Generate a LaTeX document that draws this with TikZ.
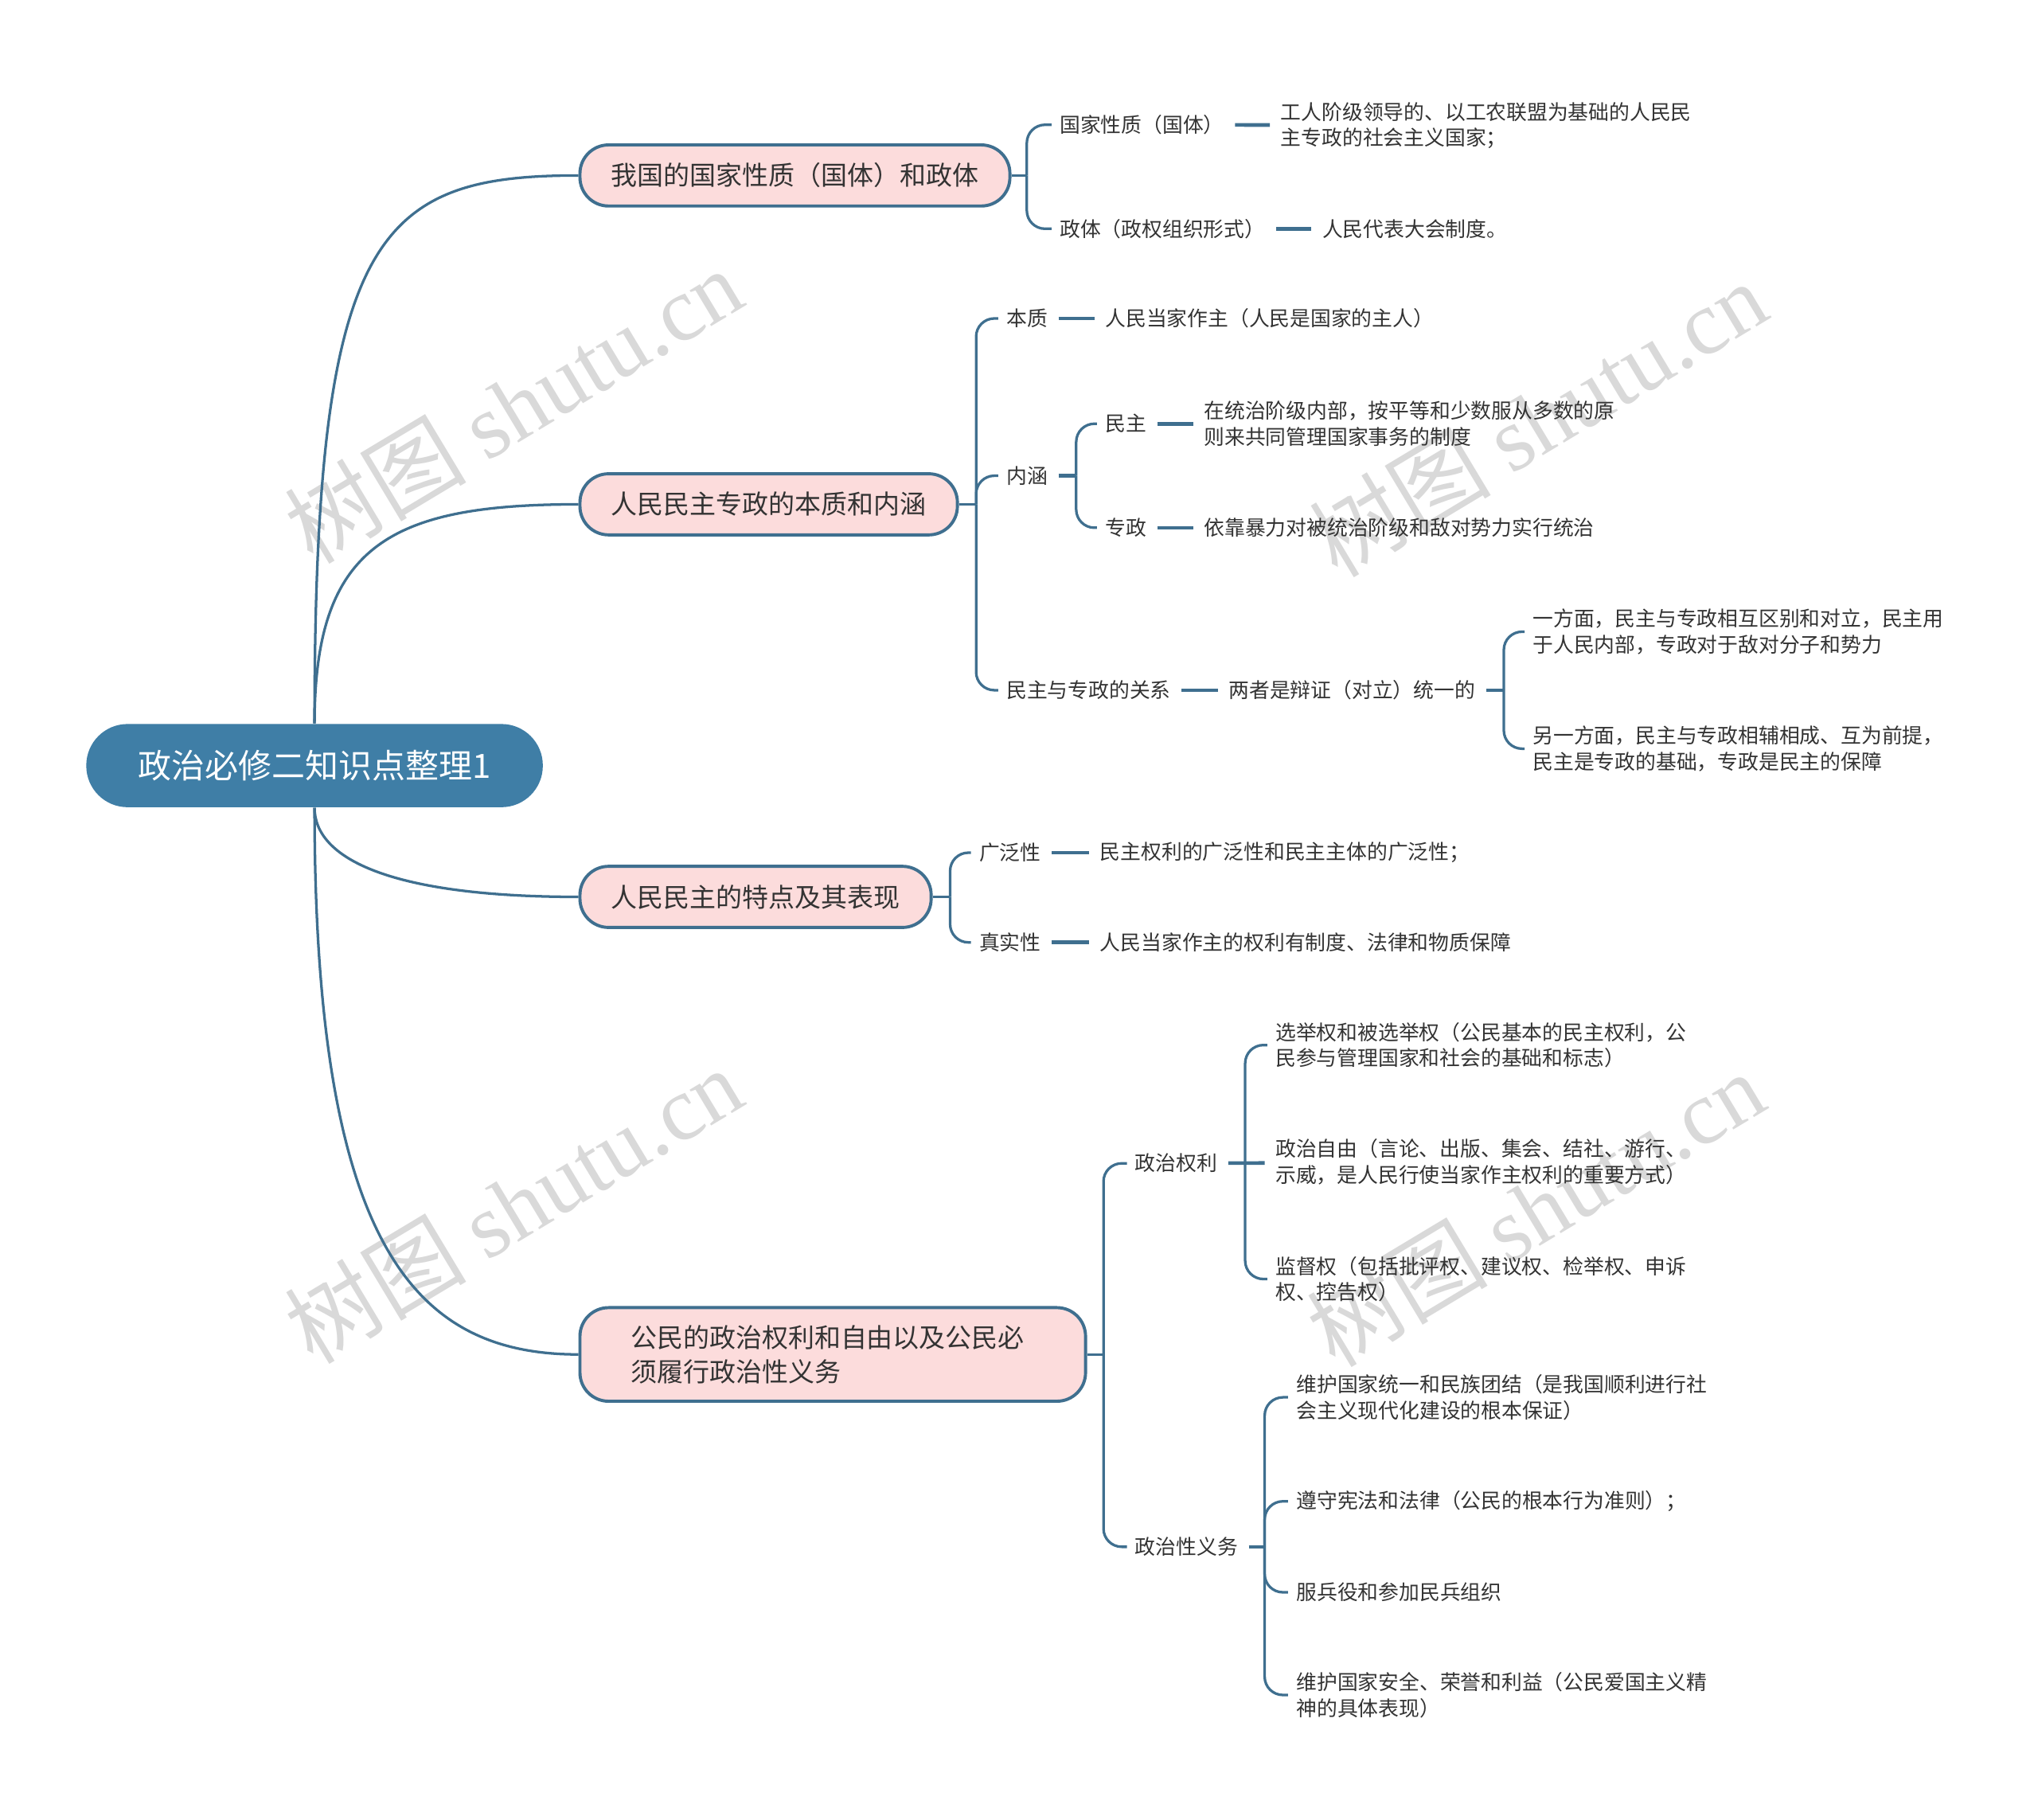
\documentclass[tikz,border=0pt]{standalone}
\usepackage{fontspec}
\setmainfont{Noto Sans CJK SC}
\newfontfamily\latinserif{Liberation Serif}
\usetikzlibrary{positioning,calc}
\definecolor{rootblue}{HTML}{3F7EA6}
\definecolor{linkblue}{HTML}{3F6F8F}
\definecolor{topicpink}{HTML}{FCDCDC}
\definecolor{inkgray}{HTML}{333333}

\begin{document}
\begin{tikzpicture}[x=0.5pt, y=-0.5pt,
  root/.style={fill=rootblue, text=white, rounded corners=15.9pt, minimum height=32pt, inner xsep=20pt, font=\fontsize{12.85}{15}\selectfont},
  topic/.style={draw=linkblue, line width=1.2pt, fill=topicpink, rounded corners=11pt, minimum height=23.5pt, inner xsep=12pt, anchor=west, text=inkgray, font=\fontsize{10.1}{13}\selectfont},
  item/.style={anchor=west, inner sep=0pt, align=left, text=inkgray, font=\fontsize{7.9}{10}\selectfont},
  link/.style={draw=linkblue, line width=1pt},
  brace/.style={link, rounded corners=7pt, shorten >=3pt},
  tie/.style={draw=linkblue, line width=1.4pt, shorten <=4pt, shorten >=4pt},
  wmark/.style={text=black!15, rotate=31, font=\fontsize{35}{35}\selectfont},
]
  \useasboundingbox (0,0) rectangle (1568,1400);

  % watermarks
  \node[wmark] (wm1) at (395,312) {树图 {\latinserif shutu.cn}};
  \node[wmark] (wm2) at (1183,322) {树图 {\latinserif shutu.cn}};
  \node[wmark] (wm3) at (395,927) {树图 {\latinserif shutu.cn}};
  \node[wmark] (wm4) at (1181,930) {树图 {\latinserif shutu.cn}};

  % root and main topics
  \node[root] (root) at (242,589) {政治必修二知识点整理1};
  \node[topic] (t1) at (445,135) {我国的国家性质（国体）和政体};
  \node[topic] (t2) at (445,388) {人民民主专政的本质和内涵};
  \node[topic] (t3) at (445,690) {人民民主的特点及其表现};
  \node[topic, align=left, text width=155.5pt, inner xsep=19.5pt, minimum height=36pt] (t4) at (445,1042)
    {公民的政治权利和自由以及公民必\\须履行政治性义务};

  \draw[link] (root.north) .. controls +(0,-377) and +(-155,0) .. (t1.west);
  \draw[link] (root.north) .. controls +(0,-137) and +(-145,0) .. (t2.west);
  \draw[link] (root.south) .. controls +(0,39) and +(-145,0) .. (t3.west);
  \draw[link] (root.south) .. controls +(0,339) and +(-125,0) .. (t4.west);

  % topic 1
  \node[item] (k11) at (815,96) {国家性质（国体）};
  \node[item] (v11) at (985,96.5) {工人阶级领导的、以工农联盟为基础的人民民\\主专政的社会主义国家；};
  \node[item] (k12) at (815,176) {政体（政权组织形式）};
  \node[item] (v12) at (1017,176) {人民代表大会制度。};
  \coordinate (b1) at (790,135);
  \draw[link] (t1.east) -- (b1);
  \draw[brace] (b1) |- (k11.west);
  \draw[brace] (b1) |- (k12.west);
  \draw[tie] (k11) -- (v11);
  \draw[tie] (k12) -- (v12);

  % topic 2
  \node[item] (k21) at (774,245) {本质};
  \node[item] (v21) at (850,245) {人民当家作主（人民是国家的主人）};
  \node[item] (k22) at (774,366) {内涵};
  \node[item] (k221) at (850,326) {民主};
  \node[item] (v221) at (926,326) {在统治阶级内部，按平等和少数服从多数的原\\则来共同管理国家事务的制度};
  \node[item] (k222) at (850,406) {专政};
  \node[item] (v222) at (926,406) {依靠暴力对被统治阶级和敌对势力实行统治};
  \node[item] (k23) at (774,531) {民主与专政的关系};
  \node[item] (v23) at (945,531) {两者是辩证（对立）统一的};
  \node[item] (v231) at (1179,486) {一方面，民主与专政相互区别和对立，民主用\\于人民内部，专政对于敌对分子和势力};
  \node[item] (v232) at (1179,576) {另一方面，民主与专政相辅相成、互为前提，\\民主是专政的基础，专政是民主的保障};
  \coordinate (b2) at (751,388);
  \coordinate (b22) at (828,366);
  \coordinate (b23) at (1157,531);
  \draw[link] (t2.east) -- (b2);
  \draw[brace] (b2) |- (k21.west);
  \draw[brace] (b2) |- (k22.west);
  \draw[brace] (b2) |- (k23.west);
  \draw[tie] (k21) -- (v21);
  \draw[tie, shorten >=0pt] (k22) -- (b22);
  \draw[brace] (b22) |- (k221.west);
  \draw[brace] (b22) |- (k222.west);
  \draw[tie] (k221) -- (v221);
  \draw[tie] (k222) -- (v222);
  \draw[tie] (k23) -- (v23);
  \draw[tie, shorten >=0pt] (v23) -- (b23);
  \draw[brace] (b23) |- (v231.west);
  \draw[brace] (b23) |- (v232.west);

  % topic 3
  \node[item] (k31) at (753,656) {广泛性};
  \node[item] (v31) at (846,656) {民主权利的广泛性和民主主体的广泛性；};
  \node[item] (k32) at (753,725) {真实性};
  \node[item] (v32) at (846,725) {人民当家作主的权利有制度、法律和物质保障};
  \coordinate (b3) at (731,690);
  \draw[link] (t3.east) -- (b3);
  \draw[brace] (b3) |- (k31.west);
  \draw[brace] (b3) |- (k32.west);
  \draw[tie] (k31) -- (v31);
  \draw[tie] (k32) -- (v32);

  % topic 4
  \node[item] (k41) at (873,895) {政治权利};
  \node[item] (v411) at (981,804) {选举权和被选举权（公民基本的民主权利，公\\民参与管理国家和社会的基础和标志）};
  \node[item] (v412) at (981,894) {政治自由（言论、出版、集会、结社、游行、\\示威，是人民行使当家作主权利的重要方式）};
  \node[item] (v413) at (981,984) {监督权（包括批评权、建议权、检举权、申诉\\权、控告权）};
  \node[item] (k42) at (873,1190) {政治性义务};
  \node[item] (v421) at (997,1075) {维护国家统一和民族团结（是我国顺利进行社\\会主义现代化建设的根本保证）};
  \node[item] (v422) at (997,1155) {遵守宪法和法律（公民的根本行为准则）；};
  \node[item] (v423) at (997,1225) {服兵役和参加民兵组织};
  \node[item] (v424) at (997,1304) {维护国家安全、荣誉和利益（公民爱国主义精\\神的具体表现）};
  \coordinate (b4) at (849,1042);
  \coordinate (b41) at (958,895);
  \coordinate (b42) at (973,1190);
  \draw[link] (t4.east) -- (b4);
  \draw[brace] (b4) |- (k41.west);
  \draw[brace] (b4) |- (k42.west);
  \draw[tie] (k41) -- (v412);
  \draw[brace] (b41) |- (v411.west);
  \draw[brace] (b41) |- (v413.west);
  \draw[tie, shorten >=0pt] (k42) -- (b42);
  \draw[brace] (b42) |- (v421.west);
  \draw[brace] (b42) |- (v422.west);
  \draw[brace] (b42) |- (v423.west);
  \draw[brace] (b42) |- (v424.west);
\end{tikzpicture}
\end{document}
